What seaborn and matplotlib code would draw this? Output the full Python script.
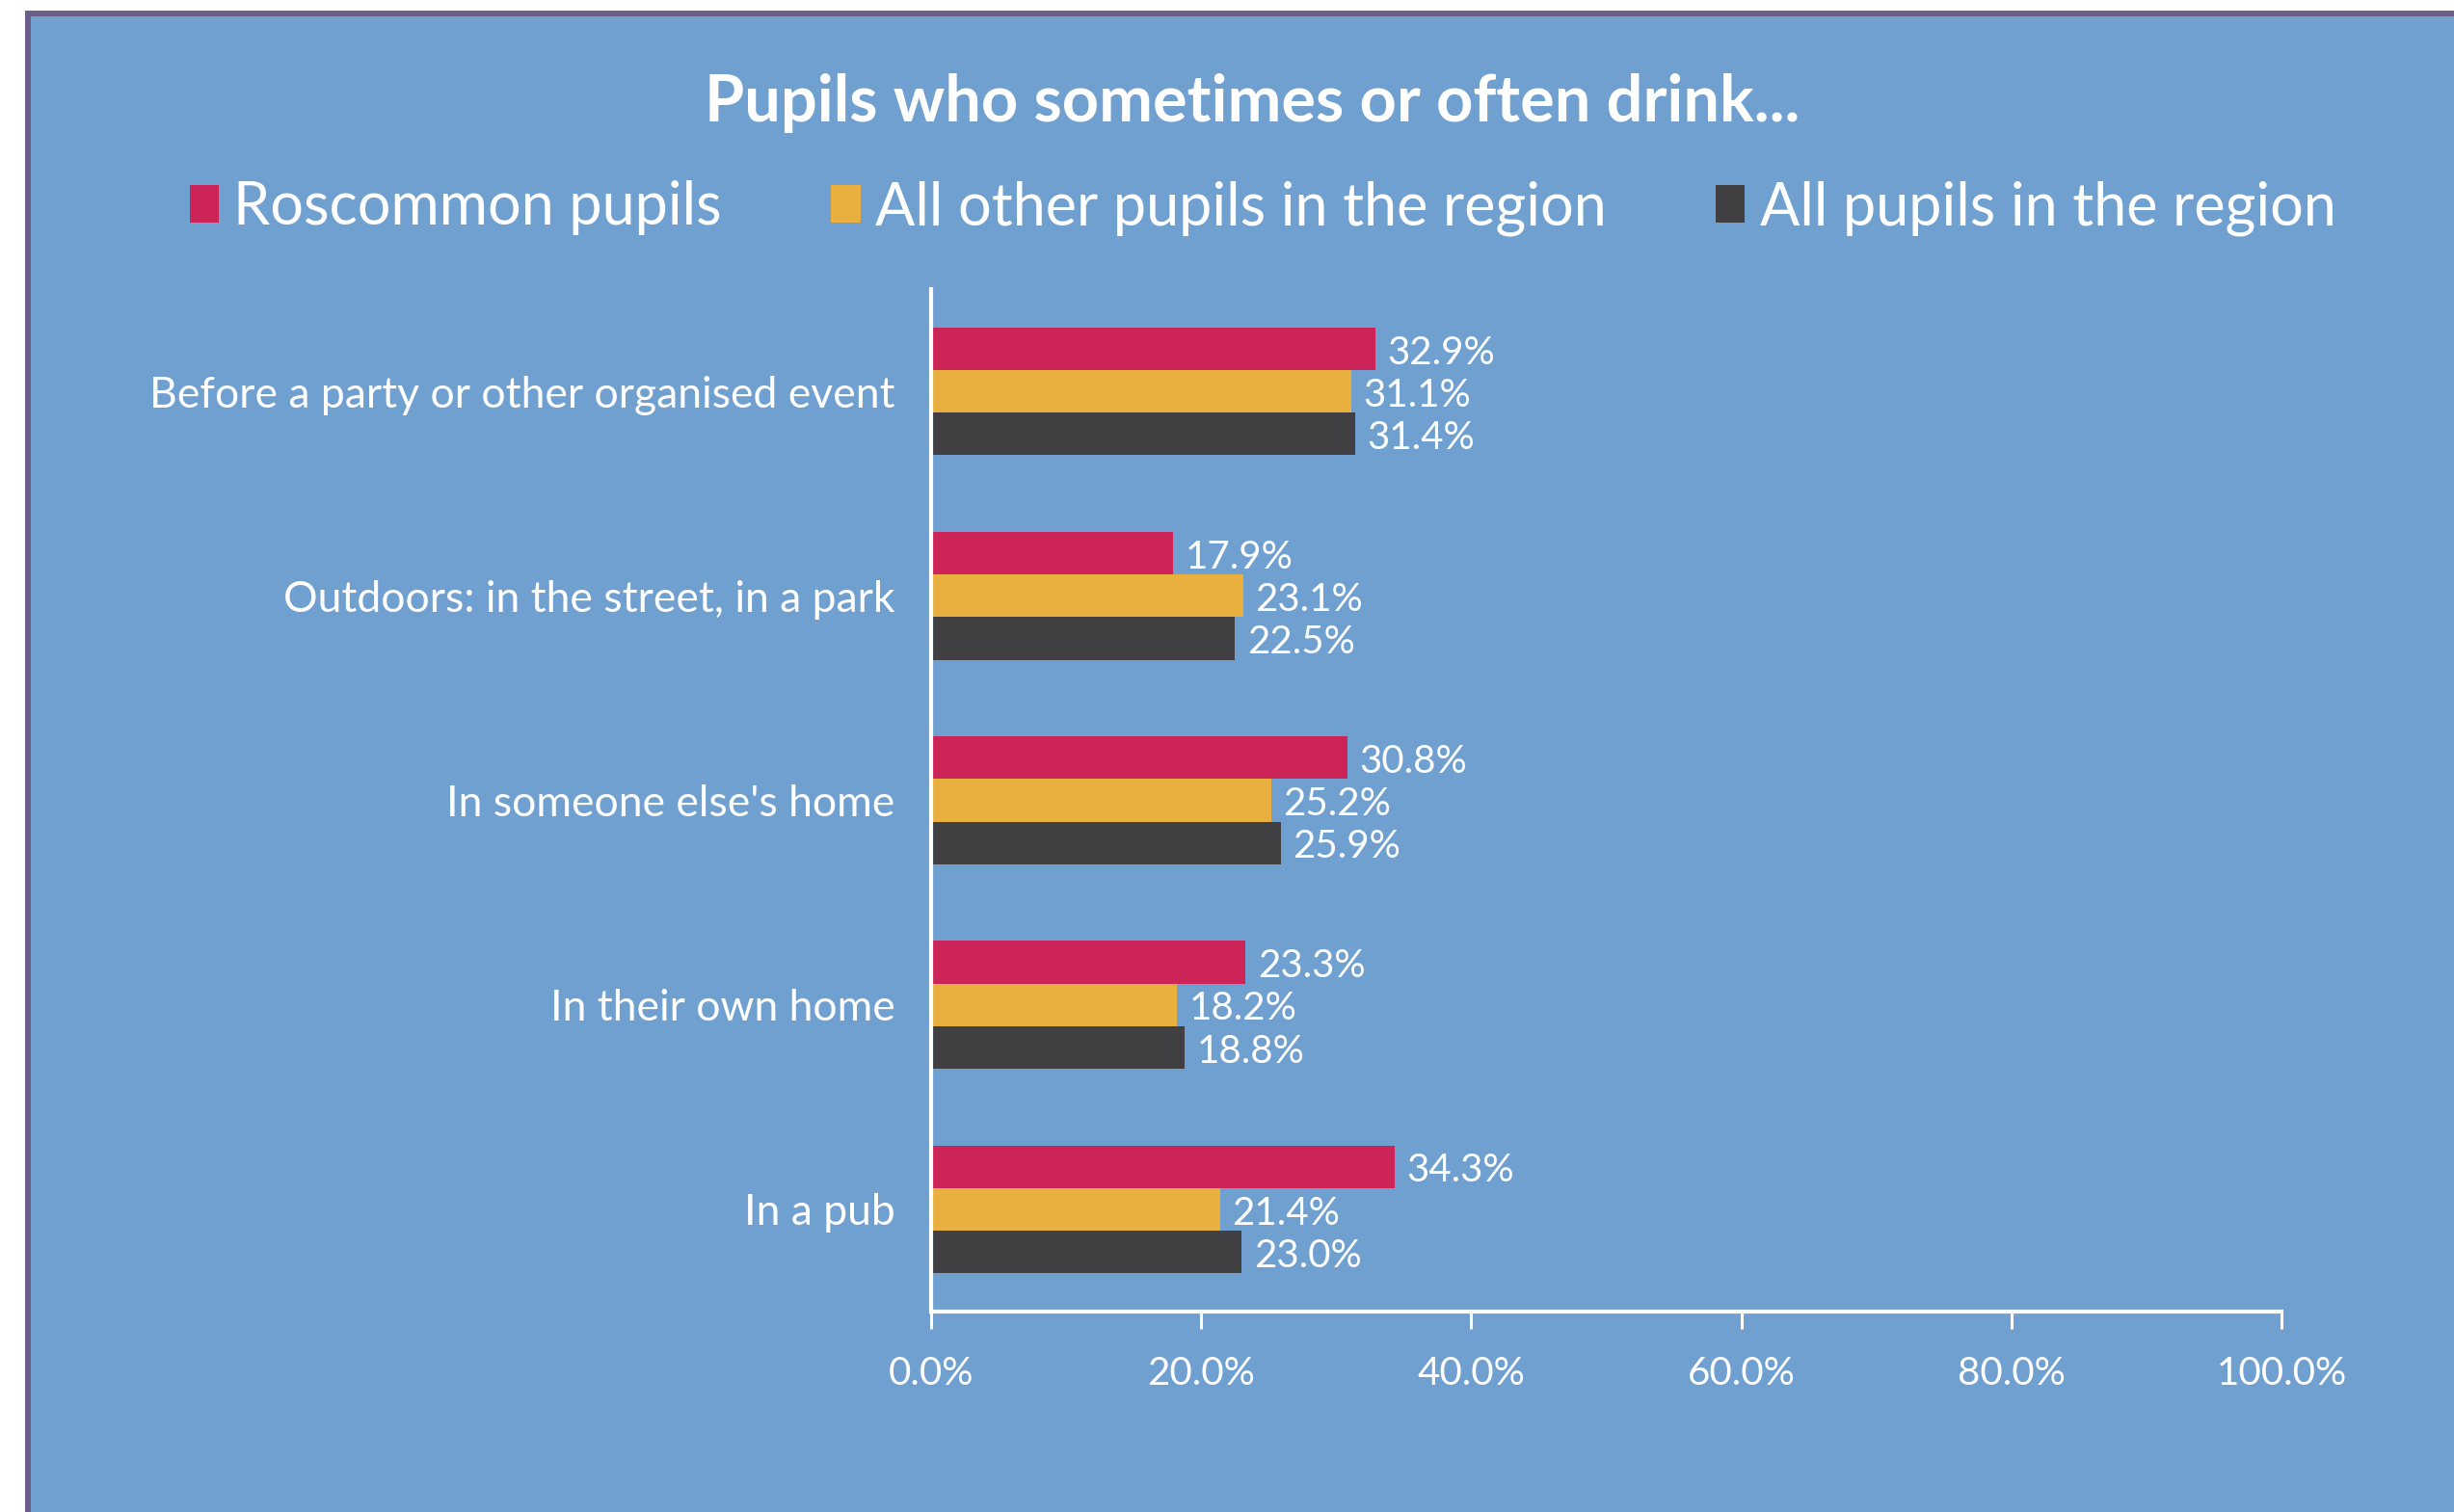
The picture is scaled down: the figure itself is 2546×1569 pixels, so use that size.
import matplotlib
matplotlib.use("Agg")
import matplotlib.pyplot as plt
import matplotlib.patches as mpatches
import seaborn as sns
import pandas as pd

# Survey results: share of pupils who sometimes or often drink in each setting
categories = [
    "Before a party or other organised event",
    "Outdoors: in the street, in a park",
    "In someone else's home",
    "In their own home",
    "In a pub",
]
groups = ["Roscommon pupils", "All other pupils in the region", "All pupils in the region"]
roscommon = [32.9, 17.9, 30.8, 23.3, 34.3]
other_region = [31.1, 23.1, 25.2, 18.2, 21.4]
all_region = [31.4, 22.5, 25.9, 18.8, 23.0]
x_ticks = [0, 20, 40, 60, 80, 100]

colors = ["#CC2359", "#E9B040", "#404042"]
panel_blue = "#6FA0D0"
frame_purple = "#6B5F88"

df = pd.DataFrame({
    "category": categories * 3,
    "group": [g for g in groups for _ in categories],
    "value": roscommon + other_region + all_region,
})

sns.set_theme(style="white")
plt.rcParams["font.family"] = ["Lato", "DejaVu Sans"]

W, H = 2546, 1569
fig = plt.figure(figsize=(W / 100, H / 100), dpi=100, facecolor="white")

# Framed blue panel (only the top and left frame edges are visible)
fig.patches.append(mpatches.Rectangle((26 / W, 0), 1, 1 - 11 / H, transform=fig.transFigure,
                                      facecolor=frame_purple, edgecolor="none", zorder=-2))
fig.patches.append(mpatches.Rectangle((32 / W, 0), 1, 1 - 17 / H, transform=fig.transFigure,
                                      facecolor=panel_blue, edgecolor="none", zorder=-1))

ax = fig.add_axes([966 / W, 1 - 1361 / H, (2367 - 966) / W, (1361 - 300) / H])
ax.set_facecolor("none")

sns.barplot(data=df, y="category", x="value", hue="group", orient="h",
            palette=colors, width=0.625, gap=0, saturation=1, ax=ax, legend=True,
            edgecolor="none", linewidth=0)

for cont in ax.containers:
    anns = ax.bar_label(cont, fmt="{:.1f}%", padding=9, color="white", fontsize=29)
    for ann in anns:
        x_off, _ = ann.xyann
        ann.xyann = (x_off, -3)

ax.set_xlim(0, 100)
ax.set_ylim(4.5, -0.5)
ax.set_xticks(x_ticks)
ax.set_xticklabels([f"{t:.1f}%" for t in x_ticks])
ax.set_xlabel("")
ax.set_ylabel("")

for side in ["top", "right"]:
    ax.spines[side].set_visible(False)
for side in ["left", "bottom"]:
    ax.spines[side].set_color("white")
    ax.spines[side].set_linewidth(3)

ax.tick_params(axis="x", colors="white", labelsize=29, length=13, width=2.2,
               direction="out", pad=20, bottom=True)
ax.tick_params(axis="y", colors="white", labelsize=32, length=0, pad=27)

handles, labels = ax.get_legend_handles_labels()
ax.get_legend().remove()
for h in handles:
    h.set_edgecolor("none")
fig.legend(handles, labels, loc="center", bbox_to_anchor=(1310 / W, 1 - 216 / H),
           ncol=3, frameon=False, fontsize=44, labelcolor="white",
           handlelength=0.5, handleheight=0.6, handletextpad=0.25,
           columnspacing=1.85, borderaxespad=0)

fig.text(1299 / W, 1 - 107 / H, "Pupils who sometimes or often drink...",
         ha="center", va="center", color="white", fontsize=48, fontweight="bold")

fig.savefig("out.png", dpi=100, facecolor="white")
